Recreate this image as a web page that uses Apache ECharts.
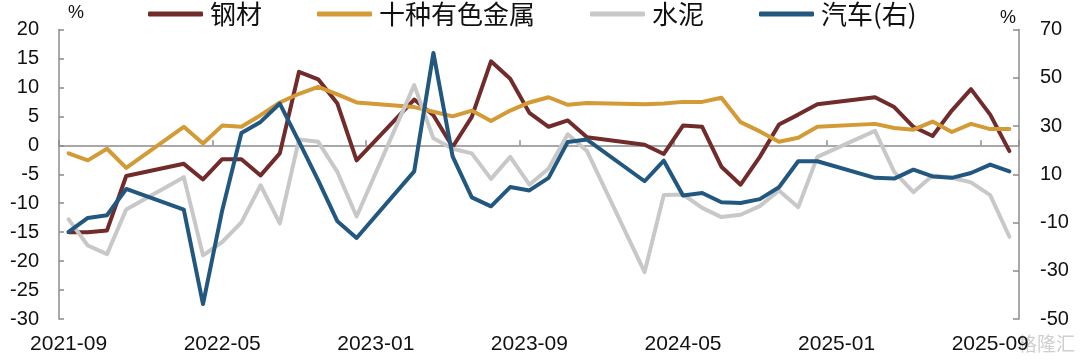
<!DOCTYPE html>
<html>
<head>
<meta charset="utf-8">
<script src="https://cdn.jsdelivr.net/npm/echarts@6/dist/echarts.min.js"></script>
<style>
html,body{margin:0;padding:0;background:#fff;}
#chart{width:1080px;height:364px;}
</style>
</head>
<body>
<div id="chart"></div>
<script>
const categories = [
  '2021-09','2021-10','2021-11','2021-12',
  '2022-01','2022-02','2022-03','2022-04','2022-05','2022-06','2022-07','2022-08','2022-09','2022-10','2022-11','2022-12',
  '2023-01','2023-02','2023-03','2023-04','2023-05','2023-06','2023-07','2023-08','2023-09','2023-10','2023-11','2023-12',
  '2024-01','2024-02','2024-03','2024-04','2024-05','2024-06','2024-07','2024-08','2024-09','2024-10','2024-11','2024-12',
  '2025-01','2025-02','2025-03','2025-04','2025-05','2025-06','2025-07','2025-08','2025-09','2025-10'
];
const steel = [
  -15.0,-15.0,-14.7,-5.3,
  null,null,-3.2,-5.9,-2.4,-2.4,-5.2,-1.4,12.7,11.4,7.2,-2.6,
  null,null,7.9,5.2,-0.3,4.9,14.5,11.5,5.6,3.2,4.3,1.4,
  null,null,0.1,-1.5,3.4,3.2,-3.7,-6.8,-2.0,3.6,5.3,7.1,
  null,null,8.3,6.6,3.2,1.6,6.0,9.7,5.3,-1.0
];
const nonferrous = [
  -1.4,-2.6,-0.6,-3.9,
  null,null,3.2,0.3,3.4,3.2,5.2,7.4,8.9,10.1,8.8,7.4,
  null,null,6.6,5.8,5.0,6.0,4.2,6.0,7.4,8.3,7.0,7.3,
  null,null,7.1,7.2,7.5,7.5,8.2,4.0,2.4,0.6,1.3,3.2,
  null,null,3.7,3.0,2.7,4.1,2.3,3.7,2.8,2.8
];
const cement = [
  -12.8,-17.3,-18.8,-11.1,
  null,null,-5.5,-19.0,-16.7,-13.3,-6.9,-13.5,1.0,0.6,-4.6,-12.3,
  null,null,10.4,1.2,-0.6,-1.4,-5.8,-2.0,-6.8,-4.0,1.9,-1.0,
  null,null,-21.9,-8.6,-8.5,-10.8,-12.4,-12.0,-10.5,-7.8,-10.7,-2.0,
  null,null,2.5,-4.6,-8.1,-5.2,-5.6,-6.4,-8.6,-15.8
];
const autos = [
  -13.9,-8.1,-7.0,3.9,
  null,null,-4.7,-43.8,-5.0,27.1,31.7,39.3,23.5,7.5,-9.5,-16.4,
  null,null,11.2,60.3,17.4,0.4,-3.3,4.7,3.3,8.5,23.4,24.4,
  null,null,7.1,15.6,1.2,2.2,-1.6,-1.9,-0.3,4.6,15.4,15.4,
  null,null,8.5,8.2,11.9,9.1,8.5,10.5,14.0,11.2
];
const seriesNames = ['钢材','十种有色金属','水泥','汽车(右)'];
const rightTicks = [-50,-30,-10,10,30,50,70];

const axisGray = '#8c8c8c';
const colors = ['#712B2B','#D39A35','#C8C8C8','#22587F'];

const chart = echarts.init(document.getElementById('chart'));
const lineSeries = (name, data, color, yIdx) => ({
  name, type:'line', data, xAxisIndex:0, yAxisIndex:yIdx,
  symbol:'none', showSymbol:false, connectNulls:true, smooth:false,
  lineStyle:{color, width:4, cap:'round', join:'round'},
  itemStyle:{color},
  emphasis:{disabled:true}
});
chart.setOption({
  animation:false,
  textStyle:{fontFamily:'Liberation Sans, Arial, "Noto Sans CJK SC", sans-serif'},
  legend:{
    data:seriesNames, left:148, top:1, padding:0,
    icon:'roundRect', itemWidth:55, itemHeight:5, itemGap:55,
    textStyle:{fontSize:26, color:'#111', fontFamily:'"Noto Sans CJK SC", sans-serif', padding:[0,0,0,2]}
  },
  graphic:[
    {type:'text', left:68, top:4, style:{text:'%', fontSize:18, fill:'#111', fontFamily:'Liberation Sans'}},
    {type:'text', left:1000, top:9, style:{text:'%', fontSize:18, fill:'#111', fontFamily:'Liberation Sans'}},
    {type:'text', left:1018, top:334, style:{text:'格隆汇', fontSize:19, fill:'#cfcfcf', fontFamily:'"Noto Sans CJK SC"'}}
  ],
  grid:{left:59, right:61, top:29.5, bottom:45},
  xAxis:[
    {type:'category', data:categories, boundaryGap:true, position:'bottom',
     axisLine:{show:false, onZero:false}, axisTick:{show:false},
     axisLabel:{interval:7, fontSize:21, color:'#111', margin:15}},
    {type:'category', data:categories, boundaryGap:true, position:'bottom',
     axisLine:{show:true, onZero:true, onZeroAxisIndex:0, lineStyle:{color:axisGray, width:1.5}},
     axisTick:{show:true, inside:true, interval:7, length:5, lineStyle:{color:axisGray, width:1.5}},
     axisLabel:{show:false}}
  ],
  yAxis:[
    {type:'value', position:'left', min:-30, max:20, interval:5,
     axisLine:{show:true, lineStyle:{color:axisGray, width:1.5}},
     axisTick:{show:true, inside:true, length:5, lineStyle:{color:axisGray, width:1.5}},
     splitLine:{show:false},
     axisLabel:{fontSize:20, color:'#111', margin:20}},
    {type:'value', position:'right', min:-50, max:70,
     axisLine:{show:true, lineStyle:{color:axisGray, width:1.5}},
     axisTick:{show:true, inside:true, length:6, customValues:rightTicks, lineStyle:{color:axisGray, width:1.5}},
     splitLine:{show:false},
     axisLabel:{fontSize:20, color:'#111', margin:21, customValues:rightTicks}}
  ],
  series:[
    lineSeries(seriesNames[0], steel, colors[0], 0),
    lineSeries(seriesNames[1], nonferrous, colors[1], 0),
    lineSeries(seriesNames[2], cement, colors[2], 0),
    lineSeries(seriesNames[3], autos, colors[3], 1)
  ]
});
</script>
</body>
</html>
